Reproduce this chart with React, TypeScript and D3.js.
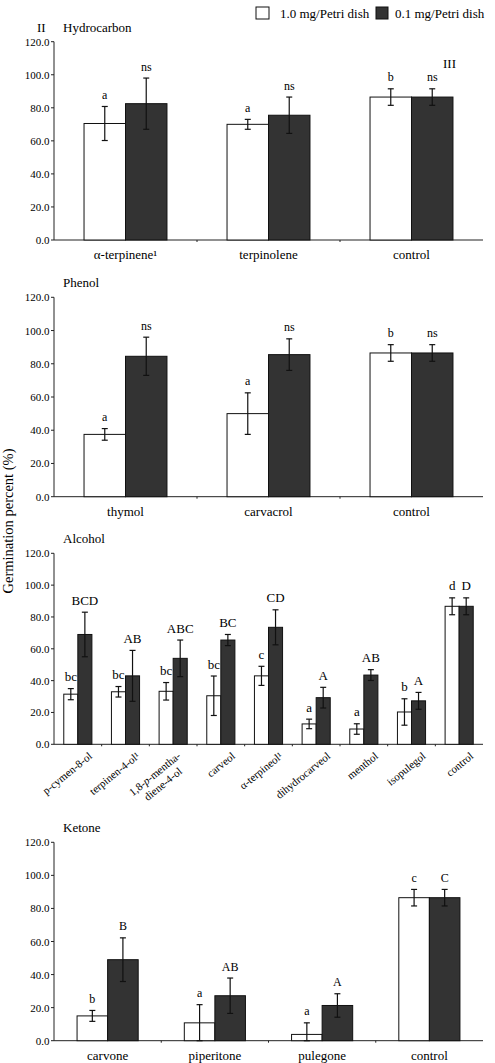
import React from "react";
import * as d3 from "d3";

// ---------- data ----------
const hydroCategories = ["α-terpinene¹", "terpinolene", "control"];
const hydroHigh = [70.5, 70, 86.5];
const hydroHighErr = [10.3, 3, 5];
const hydroLow = [82.5, 75.5, 86.5];
const hydroLowErr = [15.5, 11, 5];
const hydroHighLetters = ["a", "a", "b"];
const hydroLowLetters = ["ns", "ns", "ns"];

const phenolCategories = ["thymol", "carvacrol", "control"];
const phenolHigh = [37.5, 50, 86.5];
const phenolHighErr = [3.5, 12.5, 5];
const phenolLow = [84.5, 85.5, 86.5];
const phenolLowErr = [11.5, 9.5, 5];
const phenolHighLetters = ["a", "a", "b"];
const phenolLowLetters = ["ns", "ns", "ns"];

const alcoholCategories = [
  "p-cymen-8-ol",
  "terpinen-4-ol¹",
  "1,8-p-mentha-|diene-4-ol",
  "carveol",
  "α-terpineol¹",
  "dihydrocarveol",
  "menthol",
  "isopulegol",
  "control",
];
const alcoholHigh = [31.5, 33, 33.3, 30.5, 43, 12.8, 9.6, 20.3, 86.7];
const alcoholHighErr = [3.5, 3.3, 5.5, 12.4, 6, 3, 3.3, 8.3, 5.3];
const alcoholLow = [69, 43, 54, 65.5, 73.5, 29.3, 43.5, 27.3, 86.7];
const alcoholLowErr = [14, 16, 11.5, 3.5, 11, 6.5, 3.4, 5.3, 5.3];
const alcoholHighLetters = ["bc", "bc", "bc", "bc", "c", "a", "a", "b", "d"];
const alcoholLowLetters = ["BCD", "AB", "ABC", "BC", "CD", "A", "AB", "A", "D"];

const ketoneCategories = ["carvone", "piperitone", "pulegone", "control"];
const ketoneHigh = [15, 10.8, 3.8, 86.5];
const ketoneHighErr = [3.3, 11, 7, 5];
const ketoneLow = [49, 27.2, 21.3, 86.5];
const ketoneLowErr = [13.2, 10.7, 7.1, 5];
const ketoneHighLetters = ["b", "a", "a", "c"];
const ketoneLowLetters = ["B", "AB", "A", "C"];

const yTicks = [0, 20, 40, 60, 80, 100, 120];
const seriesNames = ["1.0 mg/Petri dish", "0.1 mg/Petri dish"];
const yLabel = "Germination percent (%)";

// ---------- styling ----------
const FONT = "'Liberation Serif', 'Times New Roman', 'DejaVu Serif', serif";
const DARK = "#333333";
const AXIS_LEFT = 54;
const AXIS_RIGHT = 483;
const ROT = -39;

type PanelProps = {
  title: string;
  top: number;
  bottom: number;
  categories: string[];
  high: number[];
  highErr: number[];
  low: number[];
  lowErr: number[];
  highLetters: string[];
  lowLetters: string[];
  padding: number;
  rotated?: boolean;
  letterSize: number;
  extra?: React.ReactNode;
};

function Panel(p: PanelProps) {
  const x = d3
    .scaleBand<string>()
    .domain(p.categories)
    .range([AXIS_LEFT, AXIS_RIGHT])
    .paddingInner(p.padding)
    .paddingOuter(p.padding / 2);
  const y = d3.scaleLinear().domain([0, 120]).range([p.bottom, p.top]);
  const bw = x.bandwidth() / 2;
  const step = x.step();
  const cap = 3;

  const series = [
    { vals: p.high, errs: p.highErr, letters: p.highLetters, fill: "#ffffff", off: 0 },
    { vals: p.low, errs: p.lowErr, letters: p.lowLetters, fill: DARK, off: bw },
  ];

  return (
    <g>
      <text x={63} y={p.top - 10} fontSize={13} fontFamily={FONT}>
        {p.title}
      </text>
      {/* y axis */}
      <line x1={AXIS_LEFT} x2={AXIS_LEFT} y1={y(0)} y2={y(120)} stroke="#222" strokeWidth={1} />
      {yTicks.map((t) => (
        <g key={t}>
          <line x1={AXIS_LEFT - 3} x2={AXIS_LEFT} y1={y(t)} y2={y(t)} stroke="#222" />
          <text
            x={49.5}
            y={y(t) + 4}
            fontSize={11}
            textAnchor="end"
            fontFamily={FONT}
          >
            {t.toFixed(1)}
          </text>
        </g>
      ))}
      {/* x axis */}
      <line x1={AXIS_LEFT} x2={AXIS_RIGHT} y1={y(0)} y2={y(0)} stroke="#222" />
      {p.categories.slice(1).map((c) => {
        const xb = (x(c) as number) - (step - x.bandwidth()) / 2;
        return <line key={c} x1={xb} x2={xb} y1={y(0)} y2={y(0) + 2} stroke="#222" />;
      })}
      {/* bars */}
      {series.map((s, si) =>
        p.categories.map((c, i) => {
          const x0 = (x(c) as number) + s.off;
          const v = s.vals[i];
          const e = s.errs[i];
          const cx = x0 + bw / 2;
          const yTop = y(v + e);
          const yBot = y(Math.max(0, v - e));
          return (
            <g key={si + "-" + c}>
              <rect
                x={x0}
                y={y(v)}
                width={bw}
                height={y(0) - y(v)}
                fill={s.fill}
                stroke="#111"
                strokeWidth={1}
              />
              <line x1={cx} x2={cx} y1={yTop} y2={yBot} stroke="#111" strokeWidth={1.2} />
              <line x1={cx - cap} x2={cx + cap} y1={yTop} y2={yTop} stroke="#111" strokeWidth={1.2} />
              <line x1={cx - cap} x2={cx + cap} y1={yBot} y2={yBot} stroke="#111" strokeWidth={1.2} />
              <text
                x={cx}
                y={yTop - 7.5}
                fontSize={p.letterSize}
                textAnchor="middle"
                fontFamily={FONT}
              >
                {s.letters[i]}
              </text>
            </g>
          );
        })
      )}
      {/* category labels */}
      {p.categories.map((c) => {
        const cx = (x(c) as number) + x.bandwidth() / 2;
        if (!p.rotated) {
          return (
            <text
              key={c}
              x={cx}
              y={p.bottom + 19}
              fontSize={13}
              textAnchor="middle"
              fontFamily={FONT}
            >
              {c}
            </text>
          );
        }
        const lines = c.split("|");
        if (lines.length === 1) {
          return (
            <text
              key={c}
              transform={`translate(${cx + 15},${p.bottom + 13}) rotate(${ROT})`}
              fontSize={11}
              textAnchor="end"
              fontFamily={FONT}
            >
              {c}
            </text>
          );
        }
        return (
          <g key={c} transform={`translate(${cx + 8},${p.bottom + 13}) rotate(${ROT})`}>
            <text x={-31} y={0} fontSize={11} textAnchor="middle" fontFamily={FONT}>
              1,8-<tspan fontStyle="italic">p</tspan>-mentha-
            </text>
            <text x={-31} y={13} fontSize={11} textAnchor="middle" fontFamily={FONT}>
              {lines[1]}
            </text>
          </g>
        );
      })}
      {p.extra}
    </g>
  );
}

export default function App() {
  return (
    <svg
      width={495}
      height={1063}
      style={{ position: "absolute", left: 0, top: 0, background: "#fff" }}
    >
      <rect x={0} y={0} width={495} height={1063} fill="#fff" />
      {/* legend */}
      <rect x={256} y={7} width={13} height={12} fill="#fff" stroke="#111" />
      <text x={280} y={18} fontSize={13} fontFamily={FONT}>
        {seriesNames[0]}
      </text>
      <rect x={376} y={7} width={12} height={12} fill={DARK} stroke="#111" />
      <text x={395} y={18} fontSize={13} fontFamily={FONT}>
        {seriesNames[1]}
      </text>
      <text x={37} y={32} fontSize={13} fontFamily={FONT}>
        II
      </text>
      <text
        transform="translate(13,521) rotate(-90)"
        fontSize={14.5}
        textAnchor="middle"
        fontFamily={FONT}
      >
        {yLabel}
      </text>

      <Panel
        title="Hydrocarbon"
        top={41.7}
        bottom={240}
        categories={hydroCategories}
        high={hydroHigh}
        highErr={hydroHighErr}
        low={hydroLow}
        lowErr={hydroLowErr}
        highLetters={hydroHighLetters}
        lowLetters={hydroLowLetters}
        padding={0.42}
        letterSize={12}
        extra={
          <text x={443} y={68} fontSize={13} fontFamily={FONT}>
            III
          </text>
        }
      />
      <Panel
        title="Phenol"
        top={297.3}
        bottom={496.7}
        categories={phenolCategories}
        high={phenolHigh}
        highErr={phenolHighErr}
        low={phenolLow}
        lowErr={phenolLowErr}
        highLetters={phenolHighLetters}
        lowLetters={phenolLowLetters}
        padding={0.42}
        letterSize={12}
      />
      <Panel
        title="Alcohol"
        top={553.3}
        bottom={744.3}
        categories={alcoholCategories}
        high={alcoholHigh}
        highErr={alcoholHighErr}
        low={alcoholLow}
        lowErr={alcoholLowErr}
        highLetters={alcoholHighLetters}
        lowLetters={alcoholLowLetters}
        padding={0.41}
        letterSize={13}
        rotated
      />
      <Panel
        title="Ketone"
        top={842.3}
        bottom={1040.7}
        categories={ketoneCategories}
        high={ketoneHigh}
        highErr={ketoneHighErr}
        low={ketoneLow}
        lowErr={ketoneLowErr}
        highLetters={ketoneHighLetters}
        lowLetters={ketoneLowLetters}
        padding={0.43}
        letterSize={12}
      />
    </svg>
  );
}
